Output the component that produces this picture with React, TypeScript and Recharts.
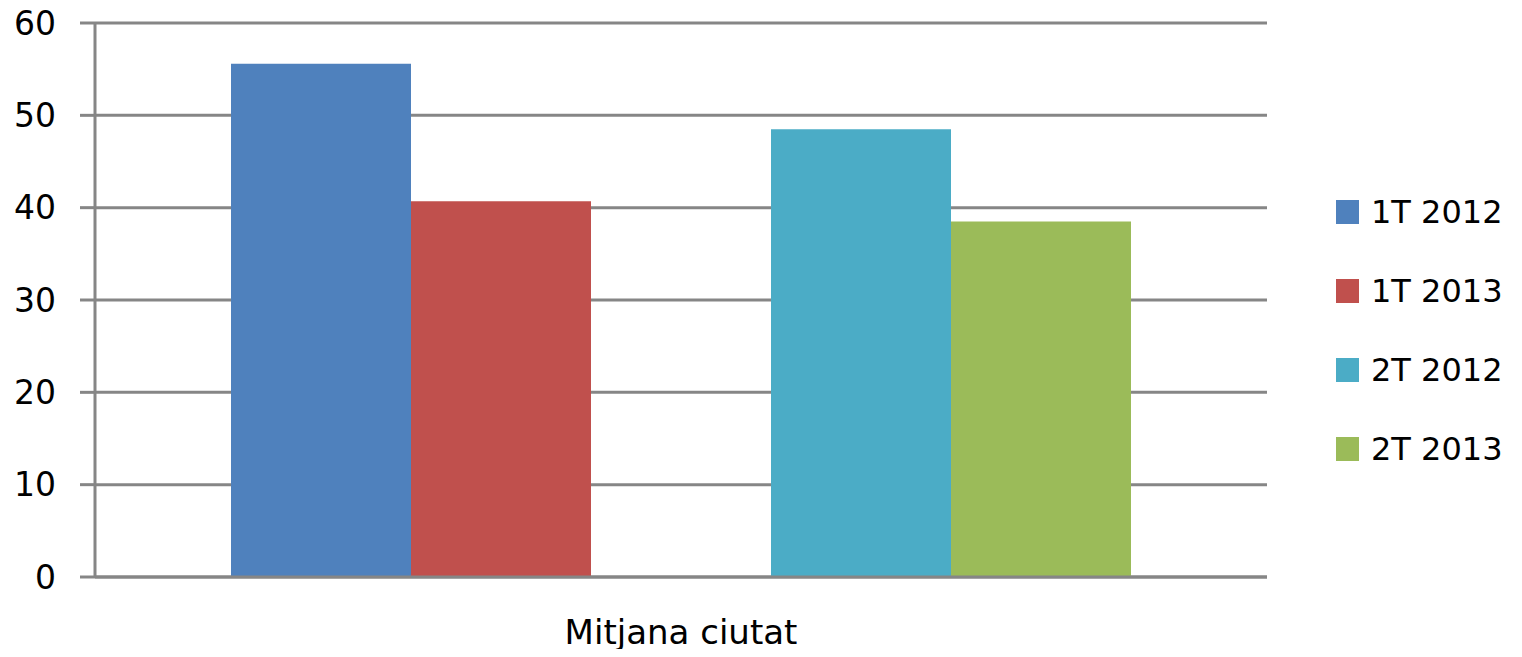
import { Bar, BarChart, CartesianGrid, Legend, XAxis, YAxis } from "recharts"

const CATEGORIES = ["Mitjana ciutat"]
const SERIES_NAMES = ["1T 2012", "1T 2013", "", "2T 2012", "2T 2013"]
const SERIES_VALUES = [55.6, 40.7, null, 48.5, 38.5]
const SERIES_COLORS = ["#4F81BD", "#C0504D", "transparent", "#4BACC6", "#9BBB59"]
const Y_TICKS = [0, 10, 20, 30, 40, 50, 60]

const GRID = "#868686"
const FONT = "'DejaVu Sans', Verdana, sans-serif"

const data = CATEGORIES.map((name) => {
  const row: Record<string, string | number | null> = { name }
  SERIES_VALUES.forEach((v, i) => {
    row[`s${i}`] = v
  })
  return row
})

function LegendBox({ payload }: { payload?: any[] }) {
  // the empty middle series only keeps the gap between the two pairs
  const items = (payload ?? []).filter((p) => p.value && SERIES_NAMES.includes(p.value))
  return (
    <div style={{ fontFamily: FONT, fontSize: 32, color: "#000" }}>
      {items.map((p) => (
        <div key={p.value} style={{ display: "flex", alignItems: "center", height: 79 }}>
          <span style={{ width: 23, height: 24, background: p.color, marginRight: 12 }} />
          <span style={{ lineHeight: 1 }}>{p.value}</span>
        </div>
      ))}
    </div>
  )
}

export default function App() {
  return (
    <div style={{ margin: -8, width: 1522, height: 657, background: "#fff" }}>
      <BarChart
        width={1522}
        height={657}
        data={data}
        margin={{ top: 23, right: 255, bottom: 0, left: 0 }}
        barCategoryGap={136}
        barGap={0}
      >
        <CartesianGrid vertical={false} stroke={GRID} strokeWidth={3} />
        <XAxis
          dataKey="name"
          height={80}
          axisLine={{ stroke: GRID, strokeWidth: 3 }}
          tickLine={false}
          tickSize={0}
          tickMargin={43}
          tick={{ fill: "#000", fontSize: 34, fontFamily: FONT }}
        />
        <YAxis
          width={95}
          domain={[0, 60]}
          ticks={Y_TICKS}
          interval={0}
          axisLine={{ stroke: GRID, strokeWidth: 3 }}
          tickLine={{ stroke: GRID, strokeWidth: 3 }}
          tickSize={15}
          tickMargin={24}
          tick={{ fill: "#000", fontSize: 33, fontFamily: FONT }}
        />
        <Legend
          layout="vertical"
          align="center"
          verticalAlign="middle"
          wrapperStyle={{ left: 1336, top: 172, width: 186 }}
          content={(props: any) => <LegendBox payload={props.payload} />}
        />
        {SERIES_NAMES.map((n, i) => (
          <Bar
            key={i}
            dataKey={`s${i}`}
            name={n || "gap"}
            fill={SERIES_COLORS[i]}
            legendType={n ? "square" : "none"}
            isAnimationActive={false}
          />
        ))}
      </BarChart>
    </div>
  )
}
